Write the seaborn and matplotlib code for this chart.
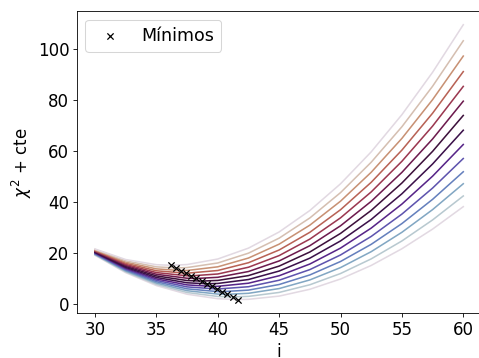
import matplotlib
matplotlib.use("Agg")
import matplotlib.pyplot as plt
import numpy as np
import pandas as pd
import seaborn as sns

plt.rcParams["font.size"] = 16

# inclination grid (degrees) on which chi^2 was evaluated
i_grid = [30.0, 32.5, 35.0, 37.5, 40.0, 42.5, 45.0, 47.5, 50.0, 52.5, 55.0, 57.5, 60.0]

# chi^2 + constant for each trial of the second parameter (lowest curve first)
chi2_00 = [18.90, 12.10, 7.04, 3.65, 1.88, 1.65, 2.91, 5.59, 9.62, 14.94, 21.49, 29.20, 38.0]
chi2_01 = [19.09, 12.42, 7.52, 4.32, 2.77, 2.80, 4.35, 7.36, 11.77, 17.52, 24.55, 32.80, 42.2]
chi2_02 = [19.28, 12.76, 8.03, 5.03, 3.71, 4.01, 5.87, 9.26, 14.10, 20.35, 27.95, 36.85, 47.0]
chi2_03 = [19.48, 13.11, 8.55, 5.76, 4.68, 5.26, 7.46, 11.22, 16.49, 23.23, 31.37, 40.88, 51.7]
chi2_04 = [19.67, 13.46, 9.09, 6.52, 5.70, 6.59, 9.14, 13.31, 19.05, 26.33, 35.09, 45.30, 56.9]
chi2_05 = [19.86, 13.82, 9.65, 7.31, 6.76, 7.97, 10.90, 15.50, 21.75, 29.60, 39.02, 49.97, 62.4]
chi2_06 = [20.05, 14.19, 10.23, 8.13, 7.88, 9.42, 12.74, 17.80, 24.56, 32.99, 43.06, 54.75, 68.0]
chi2_07 = [20.25, 14.58, 10.84, 9.01, 9.06, 10.96, 14.69, 20.22, 27.51, 36.54, 47.29, 59.71, 73.8]
chi2_08 = [20.44, 14.97, 11.47, 9.92, 10.29, 12.56, 16.71, 22.69, 30.50, 40.10, 51.46, 64.57, 79.4]
chi2_09 = [20.63, 15.37, 12.13, 10.88, 11.59, 14.24, 18.81, 25.28, 33.62, 43.80, 55.81, 69.62, 85.2]
chi2_10 = [20.82, 15.81, 12.84, 11.90, 12.96, 16.01, 21.01, 27.95, 36.81, 47.57, 60.20, 74.68, 91.0]
chi2_11 = [21.02, 16.26, 13.59, 12.97, 14.40, 17.85, 23.30, 30.75, 40.16, 51.51, 64.80, 80.00, 97.1]
chi2_12 = [21.21, 16.75, 14.39, 14.11, 15.91, 19.76, 25.66, 33.58, 43.52, 55.45, 69.37, 85.26, 103.1]
chi2_13 = [21.40, 17.26, 15.23, 15.30, 17.47, 21.74, 28.08, 36.50, 46.98, 59.52, 74.11, 90.74, 109.4]

# position and value of the minimum of each curve
i_min = [41.62, 41.20, 40.78, 40.36, 39.94, 39.52, 39.10,
         38.68, 38.26, 37.84, 37.42, 37.00, 36.58, 36.16]
chi2_min = [1.56, 2.59, 3.63, 4.66, 5.70, 6.73, 7.76,
            8.80, 9.83, 10.86, 11.90, 12.93, 13.97, 15.00]

curves = [chi2_00, chi2_01, chi2_02, chi2_03, chi2_04, chi2_05, chi2_06,
          chi2_07, chi2_08, chi2_09, chi2_10, chi2_11, chi2_12, chi2_13]

rows = []
for k, values in enumerate(curves):
    for x, y in zip(i_grid, values):
        rows.append({"i": x, "chi2": y, "curve": k})
    rows.append({"i": i_min[k], "chi2": chi2_min[k], "curve": k})
df = pd.DataFrame(rows)

cmap = plt.get_cmap("twilight")
n = len(curves)
palette = {k: cmap(k / (n - 1)) for k in range(n)}

fig, ax = plt.subplots(figsize=(479 / 75, 358 / 75), dpi=75)
fig.subplots_adjust(left=0.16, right=1.0056, bottom=0.1249, top=0.9693)

sns.lineplot(data=df, x="i", y="chi2", hue="curve", palette=palette,
             estimator=None, sort=True, legend=False, lw=1.5, ax=ax)

minima = pd.DataFrame({"i": i_min, "chi2": chi2_min})
sns.scatterplot(data=minima, x="i", y="chi2", marker="x", color="k",
                s=36, linewidth=1.2, label="Mínimos", zorder=5, ax=ax)

ax.set_xlabel("i")
ax.set_ylabel(r"$\chi^2$ + cte")
ax.legend(loc="upper left", fontsize=16.8)

fig.savefig("out.png", dpi=75)
